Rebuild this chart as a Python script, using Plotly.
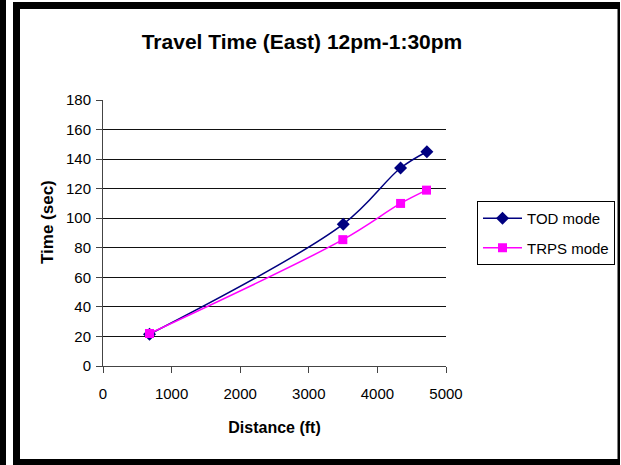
import plotly.graph_objects as go

distance_tod = [678, 3502, 4338, 4721]
time_tod = [21.5, 96, 134, 145]
distance_trps = [678, 3496, 4338, 4716]
time_trps = [22, 85.5, 110, 119]

W, H = 621, 465
L, R, T, B = 103, 446, 100, 366  # plot area in px


def px(x):
    return (x - L) / (R - L)


def py(y):
    return (B - y) / (B - T)


fig = go.Figure()
fig.add_trace(go.Scatter(
    x=distance_tod, y=time_tod, name="TOD mode", mode="lines+markers", legendgroup="a",
    line=dict(color="#000080", width=1.5, shape="spline", smoothing=1),
    marker=dict(symbol="diamond", size=10, color="#000080"),
))
fig.add_trace(go.Scatter(
    x=distance_trps, y=time_trps, name="TRPS mode", mode="lines+markers", legendgroup="b",
    line=dict(color="#FF00FF", width=1.5, shape="spline", smoothing=1),
    marker=dict(symbol="square", size=9, color="#FF00FF"),
))

font = "Liberation Sans, Arial, sans-serif"
shapes = [
    # left black bar
    dict(type="rect", xref="paper", yref="paper", x0=px(0), x1=px(6), y0=py(0), y1=py(H),
         fillcolor="black", line_width=0, layer="above"),
    # frame borders
    dict(type="rect", xref="paper", yref="paper", x0=px(13), x1=px(20), y0=py(2), y1=py(H),
         fillcolor="black", line_width=0, layer="above"),
    dict(type="rect", xref="paper", yref="paper", x0=px(13), x1=px(620), y0=py(2), y1=py(9),
         fillcolor="black", line_width=0, layer="above"),
    dict(type="rect", xref="paper", yref="paper", x0=px(13), x1=px(620), y0=py(459), y1=py(H),
         fillcolor="black", line_width=0, layer="above"),
    dict(type="rect", xref="paper", yref="paper", x0=px(617.5), x1=px(620), y0=py(2), y1=py(H),
         fillcolor="black", line_width=0, layer="above"),
]

fig.update_layout(
    width=W, height=H,
    margin=dict(l=L, r=W - R, t=T, b=H - B, autoexpand=False),
    paper_bgcolor="white", plot_bgcolor="white",
    font=dict(family=font, size=15, color="black"),
    title=dict(text="<b>Travel Time (East) 12pm-1:30pm</b>", x=302 / W, xanchor="center",
               y=1 - 42 / H, yanchor="middle", yref="container",
               font=dict(size=21, family=font, color="black")),
    xaxis=dict(range=[0, 5000], tickvals=[0, 1000, 2000, 3000, 4000, 5000],
               showgrid=False, zeroline=False, showline=True, linecolor="#444", linewidth=1,
               ticks="outside", ticklen=6, tickcolor="#444", ticklabelstandoff=8,
               title=dict(text="<b>Distance (ft)</b>", font=dict(size=16), standoff=20)),
    yaxis=dict(range=[0, 180], tickvals=list(range(0, 181, 20)),
               showgrid=True, gridcolor="#111", gridwidth=1, zeroline=False,
               showline=True, linecolor="#444", linewidth=1,
               ticks="outside", ticklen=6, tickcolor="#444", ticklabelstandoff=2),
    annotations=[dict(text="<b>Time (sec)</b>", textangle=-90, showarrow=False,
                      xref="paper", yref="paper", x=px(47), y=py(222),
                      xanchor="center", yanchor="middle", font=dict(size=17))],
    legend=dict(x=px(477), y=py(201), xanchor="left", yanchor="top",
                bordercolor="black", borderwidth=1, bgcolor="white",
                font=dict(size=15), tracegroupgap=7, traceorder="grouped", itemwidth=39),
    shapes=shapes,
    showlegend=True,
)

fig.write_html("out.html")
